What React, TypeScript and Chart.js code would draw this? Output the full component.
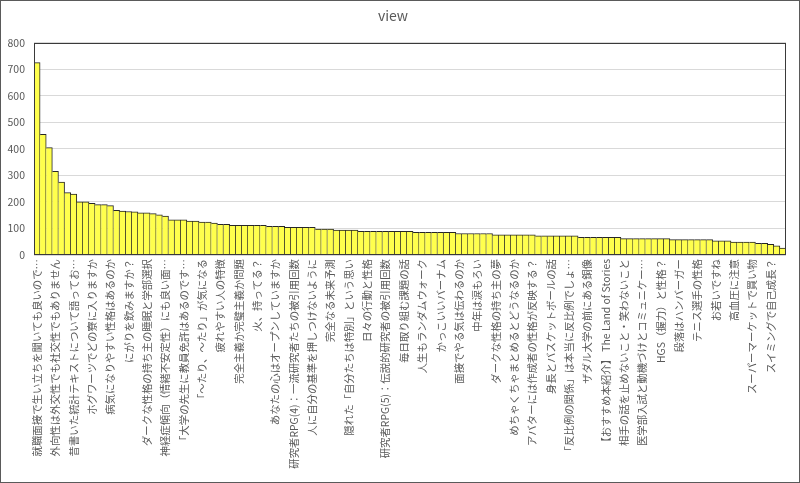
import React, { useEffect, useRef } from "react";
import { Chart, registerables } from "chart.js";

Chart.register(...registerables);

const chartTitle = "view";

// Labels that are visible on the axis (every third category)
const shownLabels: string[] = [
  "就職面接で生い立ちを聞いても良いので…",
  "外向性は外交性でも社交性でもありません",
  "昔書いた統計テキストについて語ってお…",
  "ホグワーツでどの寮に入りますか",
  "病気になりやすい性格はあるのか",
  "にがりを飲みますか？",
  "ダークな性格の持ち主の睡眠と学部選択",
  "神経症傾向（情緒不安定性）にも良い面…",
  "「大学の先生に教員免許はあるのです…",
  "「〜たり、〜たり」が気になる",
  "疲れやすい人の特徴",
  "完全主義か完璧主義か問題",
  "火、持ってる？",
  "あなたの心はオープンしていますか",
  "研究者RPG(4)：一流研究者たちの被引用回数",
  "人に自分の基準を押しつけないように",
  "完全なる未来予測",
  "隠れた「自分たちは特別」という思い",
  "日々の行動と性格",
  "研究者RPG(5)：伝説的研究者の被引用回数",
  "毎日取り組む課題の話",
  "人生もランダムウォーク",
  "かっこいいバーナム",
  "面接でやる気は伝わるのか",
  "中年は涙もろい",
  "ダークな性格の持ち主の夢",
  "めちゃくちゃまとめるとどうなるのか",
  "アバターには作成者の性格が反映する？",
  "身長とバスケットボールの話",
  "「反比例の関係」は本当に反比例でしょ…",
  "ザダル大学の前にある銅像",
  "【おすすめ本紹介】 The Land of Stories",
  "相手の話を止めないこと・笑わないこと",
  "医学部入試と動機づけとコミュニケー…",
  "HGS（握力）と性格？",
  "段落はハンバーガー",
  "テニス選手の性格",
  "お若いですね",
  "高血圧に注意",
  "スーパーマーケットで買い物",
  "スイミングで自己成長？",
];

const labelEvery = 3;

const views: number[] = [
  725, 455, 405, 315, 275, 235, 230, 200, 200, 195,
  190, 190, 186, 168, 166, 164, 163, 159, 159, 156,
  151, 147, 133, 133, 133, 128, 128, 124, 124, 120,
  116, 116, 112, 112, 112, 112, 112, 112, 108, 108,
  108, 104, 104, 104, 104, 104, 98, 98, 98, 94,
  94, 94, 94, 89, 89, 89, 89, 89, 89, 89,
  89, 89, 85, 85, 85, 85, 85, 85, 85, 81,
  81, 81, 81, 81, 81, 76, 76, 76, 76, 76,
  76, 76, 72, 72, 72, 72, 72, 72, 72, 67,
  67, 67, 67, 67, 67, 67, 62, 62, 62, 62,
  62, 62, 62, 62, 58, 58, 58, 58, 58, 58,
  58, 53, 53, 53, 49, 49, 49, 49, 44, 44,
  40, 35, 26,
];

const yMin = 0;
const yMax = 800;
const yStep = 100;

const categories: string[] = views.map((_, i) =>
  i % labelEvery === 0 ? shownLabels[i / labelEvery] ?? "" : ""
);

const FONT = "'Noto Sans CJK JP', 'Noto Sans', sans-serif";

const framePlugin = {
  id: "frame",
  afterDraw(chart: any) {
    const { ctx, chartArea: a } = chart;
    ctx.save();
    ctx.lineWidth = 1;
    ctx.strokeStyle = "#3a3a3a";
    const l = Math.round(a.left) + 0.5;
    const t = Math.round(a.top) + 0.5;
    const r = Math.round(a.right) - 0.5;
    const b = Math.round(a.bottom) - 0.5;
    ctx.strokeRect(l, t, r - l, b - t);
    ctx.strokeStyle = "#5a5a5a";
    ctx.strokeRect(0.5, 0.5, chart.width - 1, chart.height - 1);
    ctx.restore();
  },
};

export default function App() {
  const ref = useRef<HTMLCanvasElement | null>(null);
  useEffect(() => {
    document.body.style.margin = "0";
    if (!ref.current) return;
    const chart = new Chart(ref.current, {
      type: "bar",
      data: {
        labels: categories,
        datasets: [
          {
            label: chartTitle,
            data: views,
            backgroundColor: "#ffff4d",
            borderColor: "#262626",
            borderWidth: { top: 1, right: 1, bottom: 0, left: 0 } as any,
            borderSkipped: false,
            categoryPercentage: 1,
            barPercentage: 1,
          },
        ],
      },
      options: {
        animation: false,
        responsive: false,
        devicePixelRatio: 1,
        layout: { padding: { left: 0, right: 14, top: 0, bottom: 0 } },
        plugins: {
          legend: { display: false },
          tooltip: { enabled: false },
          title: {
            display: true,
            text: chartTitle,
            color: "#595959",
            font: { family: FONT, size: 14, weight: "normal" },
            padding: { top: 7, bottom: 19 },
          },
        },
        scales: {
          x: {
            grid: { display: false, drawTicks: false },
            border: { display: false },
            ticks: {
              autoSkip: false,
              minRotation: 90,
              maxRotation: 90,
              padding: 4,
              color: "#595959",
              font: { family: FONT, size: 10.4 },
            },
            afterFit(scale: any) {
              scale.height = 228;
            },
          },
          y: {
            min: yMin,
            max: yMax,
            grid: { color: "#d9d9d9", drawTicks: false },
            border: { display: false },
            ticks: {
              stepSize: yStep,
              padding: 9,
              color: "#595959",
              font: { family: FONT, size: 10.5 },
            },
            afterFit(scale: any) {
              scale.width = 34;
            },
          },
        },
      },
      plugins: [framePlugin],
    });
    return () => chart.destroy();
  }, []);
  return (
    <div style={{ position: "absolute", left: 0, top: 0, width: 800, height: 483, background: "#fff" }}>
      <canvas ref={ref} width={800} height={483} />
    </div>
  );
}
